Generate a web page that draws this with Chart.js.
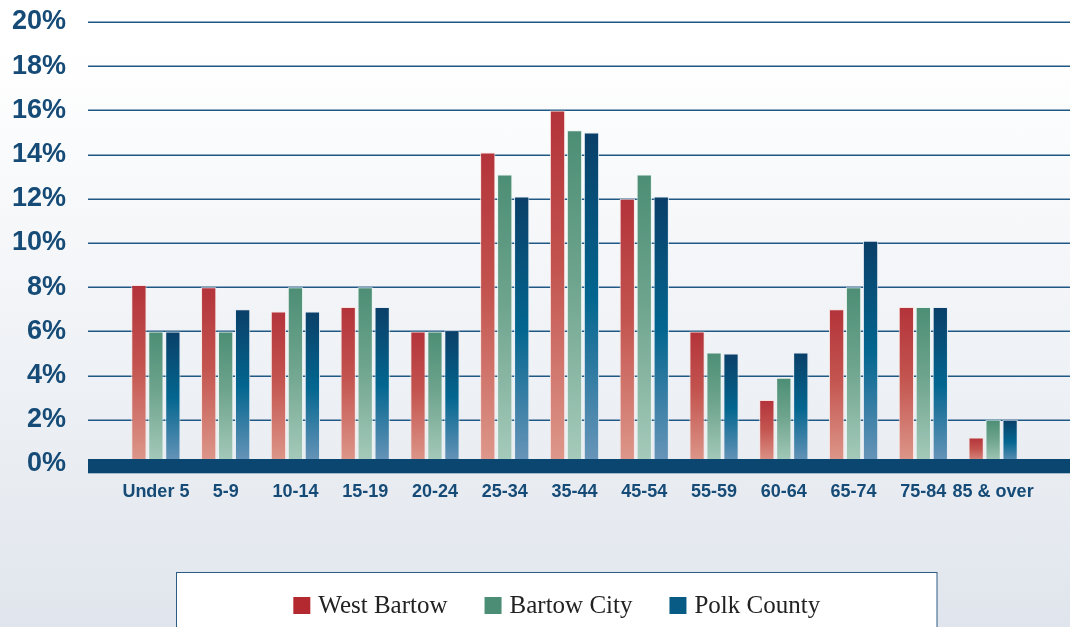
<!DOCTYPE html>
<html>
<head>
<meta charset="utf-8">
<script src="https://cdn.jsdelivr.net/npm/chart.js@4.4.1/dist/chart.umd.min.js"></script>
<style>
  html, body { margin: 0; padding: 0; }
  body {
    width: 1070px; height: 627px; overflow: hidden;
    background: linear-gradient(to bottom, #ffffff 0%, #ffffff 8%, #f3f5f8 45%, #e9edf2 75%, #e0e5ed 100%);
  }
  #wrap { position: relative; width: 1070px; height: 627px; }
</style>
</head>
<body>
<div id="wrap"><canvas id="c" width="1070" height="627"></canvas></div>
<script>
const categories = ['Under 5', '5-9', '10-14', '15-19', '20-24', '25-34', '35-44', '45-54', '55-59', '60-64', '65-74', '75-84', '85 & over'];
const westBartow = [8.1, 8.0, 6.9, 7.1, 6.0, 14.1, 16.0, 12.0, 6.0, 2.9, 7.0, 7.1, 1.2];
const bartowCity = [6.0, 6.0, 8.0, 8.0, 6.0, 13.1, 15.1, 13.1, 5.05, 3.9, 8.0, 7.1, 2.0];
const polkCounty = [6.0, 7.0, 6.9, 7.1, 6.05, 12.1, 15.0, 12.1, 5.0, 5.05, 10.1, 7.1, 2.0];
const yTicks = [0, 2, 4, 6, 8, 10, 12, 14, 16, 18, 20];
const seriesNames = ['West Bartow', 'Bartow City', 'Polk County'];
const legendColors = ['#b3292f', '#4b8e75', '#075b85'];

function gradientFill(stops, fallback) {
  return (ctx) => {
    const chart = ctx.chart;
    if (!chart.chartArea || ctx.type !== 'data' || !chart.scales.y) return fallback;
    const ys = chart.scales.y;
    const top = ys.getPixelForValue(ctx.raw);
    const bot = ys.getPixelForValue(0);
    if (!isFinite(top) || !isFinite(bot) || bot - top < 1) return fallback;
    const g = chart.ctx.createLinearGradient(0, top, 0, bot);
    stops.forEach(([o, c]) => g.addColorStop(o, c));
    return g;
  };
}

const redStops = [[0, '#b3333a'], [0.45, '#c3544f'], [1, '#de998c']];
const greenStops = [[0, '#4c8e75'], [0.45, '#6ea48e'], [1, '#a7cbbc']];
const blueStops = [[0, '#0a3f68'], [0.5, '#03668f'], [1, '#6b96ba']];

const gridAndBand = {
  id: 'gridAndBand',
  beforeDatasetsDraw(chart) {
    const c = chart.ctx, ys = chart.scales.y;
    c.save();
    c.strokeStyle = '#1f5884';
    c.lineWidth = 1.5;
    yTicks.forEach(v => {
      if (v === 0) return;
      const y = Math.round(ys.getPixelForValue(v)) + 0.25;
      c.beginPath(); c.moveTo(88, y); c.lineTo(1070, y); c.stroke();
    });
    c.restore();
  },
  afterDatasetsDraw(chart) {
    const c = chart.ctx, ys = chart.scales.y;
    const y0 = ys.getPixelForValue(0);
    c.save();
    c.fillStyle = '#0b4670';
    c.fillRect(88, y0 - 5, 1070 - 88, 14.3);
    c.restore();
  },
  afterDraw(chart) {
    const c = chart.ctx;
    c.save();
    c.fillStyle = '#ffffff';
    c.fillRect(176.5, 572.5, 937 - 176.5, 60);
    c.strokeStyle = '#2c5b84';
    c.lineWidth = 1;
    c.strokeRect(176.5, 572.5, 937 - 176.5, 60);
    c.font = '25px "Liberation Serif", "Times New Roman", serif';
    const sq = 17, gapText = 8, gapItem = 37;
    const widths = seriesNames.map(n => c.measureText(n).width);
    let total = 0;
    widths.forEach((w, i) => { total += sq + gapText + w + (i < widths.length - 1 ? gapItem : 0); });
    let x = (176.5 + 937) / 2 - total / 2;
    c.textBaseline = 'alphabetic';
    c.textAlign = 'left';
    seriesNames.forEach((n, i) => {
      c.fillStyle = legendColors[i];
      c.fillRect(x, 597, sq, sq);
      c.fillStyle = '#222222';
      c.fillText(n, x + sq + gapText, 613);
      x += sq + gapText + widths[i] + gapItem;
    });
    c.restore();
  }
};

new Chart(document.getElementById('c'), {
  type: 'bar',
  data: {
    labels: categories,
    datasets: [
      { label: seriesNames[0], data: westBartow, backgroundColor: gradientFill(redStops, '#c3544f'), borderColor: 'rgba(250,225,222,0.95)', borderWidth: 1 },
      { label: seriesNames[1], data: bartowCity, backgroundColor: gradientFill(greenStops, '#6ea48e'), borderColor: 'rgba(232,244,238,0.95)', borderWidth: 1 },
      { label: seriesNames[2], data: polkCounty, backgroundColor: gradientFill(blueStops, '#03668f'), borderColor: 'rgba(228,236,244,0.95)', borderWidth: 1 }
    ]
  },
  options: {
    responsive: false,
    animation: false,
    events: [],
    layout: { padding: { top: 22, right: 42, bottom: 0, left: 0 } },
    datasets: { bar: { categoryPercentage: 0.73, barPercentage: 0.9 } },
    plugins: { legend: { display: false }, tooltip: { enabled: false } },
    scales: {
      x: {
        grid: { display: false, drawTicks: false },
        border: { display: false },
        ticks: {
          color: '#154b76', padding: 17, maxRotation: 0, autoSkip: false,
          font: { family: '"Liberation Sans", Arial, sans-serif', size: 18, weight: 'bold' }
        },
        afterFit(scale) { scale.height = 163; scale.paddingLeft = 0; scale.paddingRight = 0; }
      },
      y: {
        min: 0, max: 20,
        grid: { display: false, drawTicks: false },
        border: { display: false },
        afterBuildTicks(scale) { scale.ticks = yTicks.map(v => ({ value: v })); },
        ticks: {
          color: '#154b76', padding: 55,
          font: { family: '"Liberation Sans", Arial, sans-serif', size: 27, weight: 'bold' },
          callback: v => v + '%'
        },
        afterFit(scale) { scale.width = 121; scale.paddingTop = 0; scale.paddingBottom = 0; }
      }
    }
  },
  plugins: [gridAndBand]
});
</script>
</body>
</html>
